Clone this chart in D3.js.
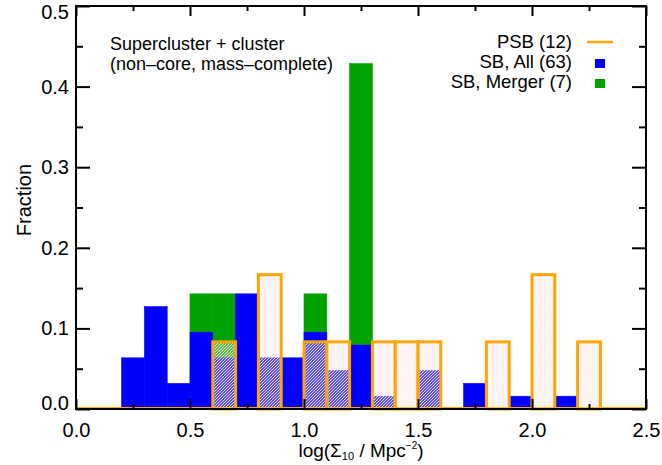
<!DOCTYPE html>
<html lang="en">
<head>
    <meta charset="UTF-8">
    <script src="https://cdn.jsdelivr.net/npm/d3@7"></script>
    <title>Fraction vs log Sigma10</title>
    <style>
        body { margin: 0; background: white; }
        svg { display: block; }
        text { font-family: "Liberation Sans", Arial, sans-serif; fill: black; }
    </style>
</head>
<body>
    <div id="container"></div>
    <script>
        // left edges of the 0.1-wide bins in log(Sigma10)
        const binLeft = [0.0, 0.1, 0.2, 0.3, 0.4, 0.5, 0.6, 0.7, 0.8, 0.9, 1.0, 1.1, 1.2,
                         1.3, 1.4, 1.5, 1.6, 1.7, 1.8, 1.9, 2.0, 2.1, 2.2, 2.3, 2.4]
        const binWidth = 0.1

        // galaxy counts per bin
        const sbAllCounts  = [0, 0, 4, 8, 2, 6, 4, 9, 4, 4, 6, 3, 5, 1, 0, 3, 0, 2, 0, 1, 0, 1, 0, 0, 0]
        const mergerCounts = [0, 0, 0, 0, 0, 1, 1, 0, 0, 0, 1, 0, 3, 0, 0, 0, 0, 0, 0, 0, 0, 0, 0, 0, 0]
        const psbCounts    = [0, 0, 0, 0, 0, 0, 1, 0, 2, 0, 1, 1, 0, 1, 1, 1, 0, 0, 1, 0, 2, 0, 1, 0, 0]
        const sbAllTotal = 63
        const mergerTotal = 7
        const psbTotal = 12

        const legendLabels = ["PSB (12)", "SB, All (63)", "SB, Merger (7)"]
        const noteLines = ["Supercluster + cluster", "(non\u2013core, mass\u2013complete)"]
        const xTicks = [0.0, 0.5, 1.0, 1.5, 2.0, 2.5]
        const yTicks = [0.0, 0.1, 0.2, 0.3, 0.4, 0.5]
        const xMinor = [0.25, 0.75, 1.25, 1.75, 2.25]
        const yMinor = [0.05, 0.15, 0.25, 0.35, 0.45]

        const W = 662, H = 465
        const plot = { left: 76, right: 646, top: 6, bottom: 409 }

        const x = d3.scaleLinear().domain([0, 2.5]).range([plot.left, plot.right])
        const y = d3.scaleLinear().domain([0, 0.5]).range([plot.bottom, plot.top])

        const svg = d3.select("#container").append("svg")
            .attr("width", W)
            .attr("height", H)

        // hatch for the PSB bars
        const defs = svg.append("defs")
        const pat = defs.append("pattern")
            .attr("id", "hatch")
            .attr("patternUnits", "userSpaceOnUse")
            .attr("width", 3)
            .attr("height", 3)
        pat.append("rect").attr("width", 3).attr("height", 3).attr("fill", "rgba(255,225,225,0.35)")
        pat.append("path")
            .attr("d", "M-1,1 l2,-2 M0,3 l3,-3 M2,4 l2,-2")
            .attr("stroke", "rgba(255,240,240,0.85)")
            .attr("stroke-width", 1)

        const bins = binLeft.map((b, i) => ({
            x0: b,
            all: sbAllCounts[i] / sbAllTotal,
            merger: mergerCounts[i] / mergerTotal,
            psb: psbCounts[i] / psbTotal
        }))

        // merger first, full-sample bars drawn over them
        svg.append("g").selectAll("rect")
            .data(bins.filter(d => d.merger > 0))
            .join("rect")
            .attr("x", d => x(d.x0))
            .attr("width", d => x(d.x0 + binWidth) - x(d.x0))
            .attr("y", d => y(d.merger))
            .attr("height", d => y(0) - y(d.merger))
            .attr("fill", "#00a200")
            .attr("stroke", "#00a200")
            .attr("stroke-width", 0.6)

        svg.append("g").selectAll("rect")
            .data(bins.filter(d => d.all > 0))
            .join("rect")
            .attr("x", d => x(d.x0))
            .attr("width", d => x(d.x0 + binWidth) - x(d.x0))
            .attr("y", d => y(d.all))
            .attr("height", d => y(0) - y(d.all))
            .attr("fill", "#0000ff")
            .attr("stroke", "#0000ff")
            .attr("stroke-width", 0.6)

        // orange baseline of the PSB histogram
        svg.append("line")
            .attr("x1", x(0)).attr("x2", x(2.5))
            .attr("y1", y(0) - 0.5).attr("y2", y(0) - 0.5)
            .attr("stroke", "#ffa500")
            .attr("stroke-width", 3)

        svg.append("g").selectAll("rect")
            .data(bins.filter(d => d.psb > 0))
            .join("rect")
            .attr("x", d => x(d.x0))
            .attr("width", d => x(d.x0 + binWidth) - x(d.x0))
            .attr("y", d => y(d.psb))
            .attr("height", d => y(0) - y(d.psb))
            .attr("fill", "url(#hatch)")
            .attr("stroke", "#ffa500")
            .attr("stroke-width", 3)

        // axes: ticks inside on all four sides
        svg.append("g").attr("transform", `translate(0,${plot.bottom})`)
            .call(d3.axisBottom(x).tickValues(xTicks).tickSize(-10).tickPadding(14).tickFormat(d3.format(".1f")))
        svg.append("g").attr("transform", `translate(0,${plot.bottom})`)
            .call(d3.axisBottom(x).tickValues(xMinor).tickSize(-5).tickFormat(""))
        svg.append("g").attr("transform", `translate(0,${plot.top})`)
            .call(d3.axisTop(x).tickValues(xTicks).tickSize(-10).tickFormat(""))
        svg.append("g").attr("transform", `translate(0,${plot.top})`)
            .call(d3.axisTop(x).tickValues(xMinor).tickSize(-5).tickFormat(""))
        const yAxisG = svg.append("g").attr("transform", `translate(${plot.left},0)`)
            .call(d3.axisLeft(y).tickValues(yTicks).tickSize(-14).tickPadding(7).tickFormat(d3.format(".1f")))
        svg.append("g").attr("transform", `translate(${plot.left},0)`)
            .call(d3.axisLeft(y).tickValues(yMinor).tickSize(-7).tickFormat(""))
        svg.append("g").attr("transform", `translate(${plot.right},0)`)
            .call(d3.axisRight(y).tickValues(yTicks).tickSize(-14).tickFormat(""))
        svg.append("g").attr("transform", `translate(${plot.right},0)`)
            .call(d3.axisRight(y).tickValues(yMinor).tickSize(-7).tickFormat(""))

        svg.selectAll(".domain").remove()
        svg.selectAll(".tick line").attr("stroke", "black").attr("stroke-width", 2)
        svg.selectAll(".tick text")
            .style("font-family", '"Liberation Sans", Arial, sans-serif')
            .attr("font-size", 20)
            .attr("fill", "black")
        // end labels sit inside the axis range, as in the original plot
        yAxisG.selectAll(".tick text")
            .attr("dy", d => d === 0.5 ? "0.6em" : d === 0 ? "0.03em" : "0.32em")

        svg.append("rect")
            .attr("x", plot.left).attr("y", plot.top)
            .attr("width", plot.right - plot.left)
            .attr("height", plot.bottom - plot.top)
            .attr("fill", "none")
            .attr("stroke", "black")
            .attr("stroke-width", 2)

        // axis titles
        const xt = svg.append("text")
            .attr("x", (plot.left + plot.right) / 2)
            .attr("y", 457)
            .attr("text-anchor", "middle")
            .attr("font-size", 19)
        xt.append("tspan").text("log(\u03A3")
        xt.append("tspan").attr("font-size", 11).attr("dy", 3).text("10")
        xt.append("tspan").attr("dy", -3).text(" / Mpc")
        xt.append("tspan").attr("font-size", 10).attr("dy", -8).text("\u22122")
        xt.append("tspan").attr("dy", 8).text(")")

        svg.append("text")
            .attr("transform", `translate(31,200) rotate(-90)`)
            .attr("text-anchor", "middle")
            .attr("font-size", 20)
            .text("Fraction")

        // note, upper left
        svg.append("g").selectAll("text")
            .data(noteLines)
            .join("text")
            .attr("x", 110)
            .attr("y", (d, i) => 50 + i * 20)
            .attr("font-size", 18)
            .text(d => d)

        // legend, upper right
        const legend = svg.append("g")
        legend.selectAll("text")
            .data(legendLabels)
            .join("text")
            .attr("x", 572)
            .attr("y", (d, i) => 48 + i * 20)
            .attr("text-anchor", "end")
            .attr("font-size", 18.5)
            .text(d => d)
        legend.append("line")
            .attr("x1", 587).attr("x2", 613)
            .attr("y1", 42).attr("y2", 42)
            .attr("stroke", "#ffa500")
            .attr("stroke-width", 2.5)
        legend.append("rect")
            .attr("x", 595).attr("y", 59).attr("width", 10).attr("height", 9)
            .attr("fill", "#0000ff")
        legend.append("rect")
            .attr("x", 595).attr("y", 79).attr("width", 10).attr("height", 9)
            .attr("fill", "#00a200")
    </script>
</body>
</html>
